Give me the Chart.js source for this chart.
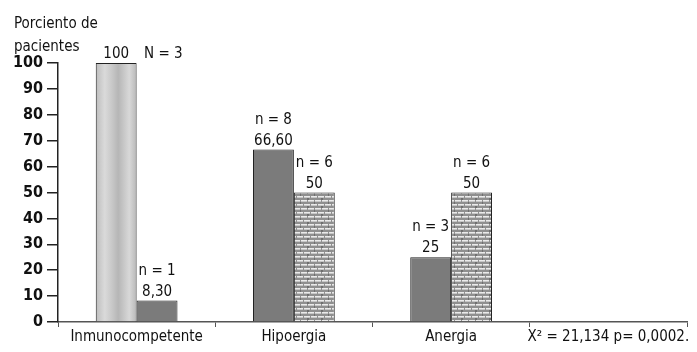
<!DOCTYPE html>
<html>
<head>
<meta charset="utf-8">
<script src="https://cdn.jsdelivr.net/npm/chart.js"></script>
<style>
  html, body { margin: 0; padding: 0; background: #fff; }
  #wrap { width: 697px; height: 352px; }
</style>
</head>
<body>
<div id="wrap"><canvas id="myChart" width="697" height="352"></canvas></div>
<script>
var categories = ['Inmunocompetente', 'Hipoergia', 'Anergia', 'X\u00b2 = 21,134 p= 0,0002.'];
var serieA = [100, 66.6, 25, null];
var serieB = [8.3, 50, 50, null];

// texts over the bars (n line, value line)
var nA = ['', 'n = 8', 'n = 3'];
var valA = ['100', '66,60', '25'];
var nB = ['n = 1', 'n = 6', 'n = 6'];
var valB = ['8,30', '50', '50'];
var extraNote = 'N = 3';

var yTicks = [0, 10, 20, 30, 40, 50, 60, 70, 80, 90, 100];
var yTitle = ['Porciento de', 'pacientes'];

var FONT = '"Liberation Sans Narrow", "DejaVu Sans Condensed", "Arial Narrow", sans-serif';
var DARK = '#7b7b7b';
var catPct = 0.52;

function makeBrickPattern() {
    var c = document.createElement('canvas');
    c.width = 14; c.height = 8;
    var g = c.getContext('2d');
    g.fillStyle = '#8f8f8f';
    g.fillRect(0, 0, 14, 8);
    g.fillStyle = '#6f6f6f';
    g.fillRect(6, 2, 1, 2);
    g.fillRect(13, 6, 1, 2);
    g.fillRect(0, 6, 1, 2);
    g.fillStyle = '#ebebeb';
    g.fillRect(0, 0, 6, 1.6);
    g.fillRect(7, 0, 6, 1.6);
    g.fillRect(3, 4, 6, 1.6);
    g.fillRect(10, 4, 4, 1.6);
    g.fillRect(0, 4, 2, 1.6);
    return g.createPattern(c, 'repeat');
}
var brick = makeBrickPattern();

function cylinder(ctx) {
    var chart = ctx.chart;
    var x = chart.scales.x;
    if (!chart.chartArea || !x) return '#c8c8c8';
    var catW = x.width / categories.length;
    var center = x.getPixelForValue(0);
    var left = center - catW * catPct / 2;
    var grad = chart.ctx.createLinearGradient(left, 0, center, 0);
    grad.addColorStop(0, '#bdbdbd');
    grad.addColorStop(0.22, '#dadada');
    grad.addColorStop(0.4, '#c8c8c8');
    grad.addColorStop(0.55, '#b6b6b6');
    grad.addColorStop(0.7, '#c9c9c9');
    grad.addColorStop(0.82, '#d8d8d8');
    grad.addColorStop(1, '#b8b8b8');
    return grad;
}

var barLabels = {
    id: 'barLabels',
    afterDatasetsDraw: function (chart) {
        var g = chart.ctx;
        g.save();
        g.fillStyle = '#111';
        g.font = '15px ' + FONT;
        g.textAlign = 'center';
        g.textBaseline = 'alphabetic';
        var sets = [[nA, valA], [nB, valB]];
        for (var d = 0; d < 2; d++) {
            var meta = chart.getDatasetMeta(d);
            for (var i = 0; i < sets[d][0].length; i++) {
                var el = meta.data[i];
                g.fillText(sets[d][1][i], el.x, el.y - 5);
                if (sets[d][0][i]) g.fillText(sets[d][0][i], el.x, el.y - 26);
            }
        }
        // note next to the 100 bar
        var first = chart.getDatasetMeta(1).data[0];
        g.textAlign = 'left';
        g.fillText(extraNote, first.x - 13, chart.getDatasetMeta(0).data[0].y - 5);

        // axis title, top left
        g.font = '15px ' + FONT;
        g.fillText(yTitle[0], 14, 28);
        g.fillText(yTitle[1], 14, 51);
        g.restore();
    }
};

var ctx = document.getElementById('myChart').getContext('2d');
var chart = new Chart(ctx, {
    type: 'bar',
    data: {
        labels: categories,
        datasets: [{
            data: serieA,
            backgroundColor: function (c) { return c.dataIndex === 0 ? cylinder(c) : DARK; },
            borderColor: '#222',
            borderWidth: 1
        }, {
            data: serieB,
            backgroundColor: function (c) { return c.dataIndex === 0 ? DARK : brick; },
            borderColor: '#222',
            borderWidth: 1
        }]
    },
    plugins: [barLabels],
    options: {
        responsive: false,
        animation: false,
        categoryPercentage: catPct,
        barPercentage: 1,
        layout: { padding: { top: 63, right: 10, left: 0, bottom: 0 } },
        plugins: {
            legend: { display: false },
            tooltip: { enabled: false }
        },
        scales: {
            x: {
                offset: true,
                grid: { offset: true, drawOnChartArea: false, tickLength: 5, color: '#555' },
                border: { color: '#555', width: 1.5 },
                ticks: { color: '#111', font: { family: FONT, size: 15 }, padding: 1, maxRotation: 0, autoSkip: false },
                afterFit: function (s) { s.height = 30; }
            },
            y: {
                min: 0,
                max: 100,
                afterBuildTicks: function (s) { s.ticks = yTicks.map(function (v) { return { value: v }; }); },
                grid: { drawOnChartArea: false, tickLength: 11, color: '#222', lineWidth: 1.5 },
                border: { color: '#222', width: 1.5 },
                ticks: { color: '#111', font: { family: FONT, size: 16, weight: 'bold' }, padding: 4 },
                afterFit: function (s) { s.width = 58; }
            }
        }
    }
});
</script>
</body>
</html>
